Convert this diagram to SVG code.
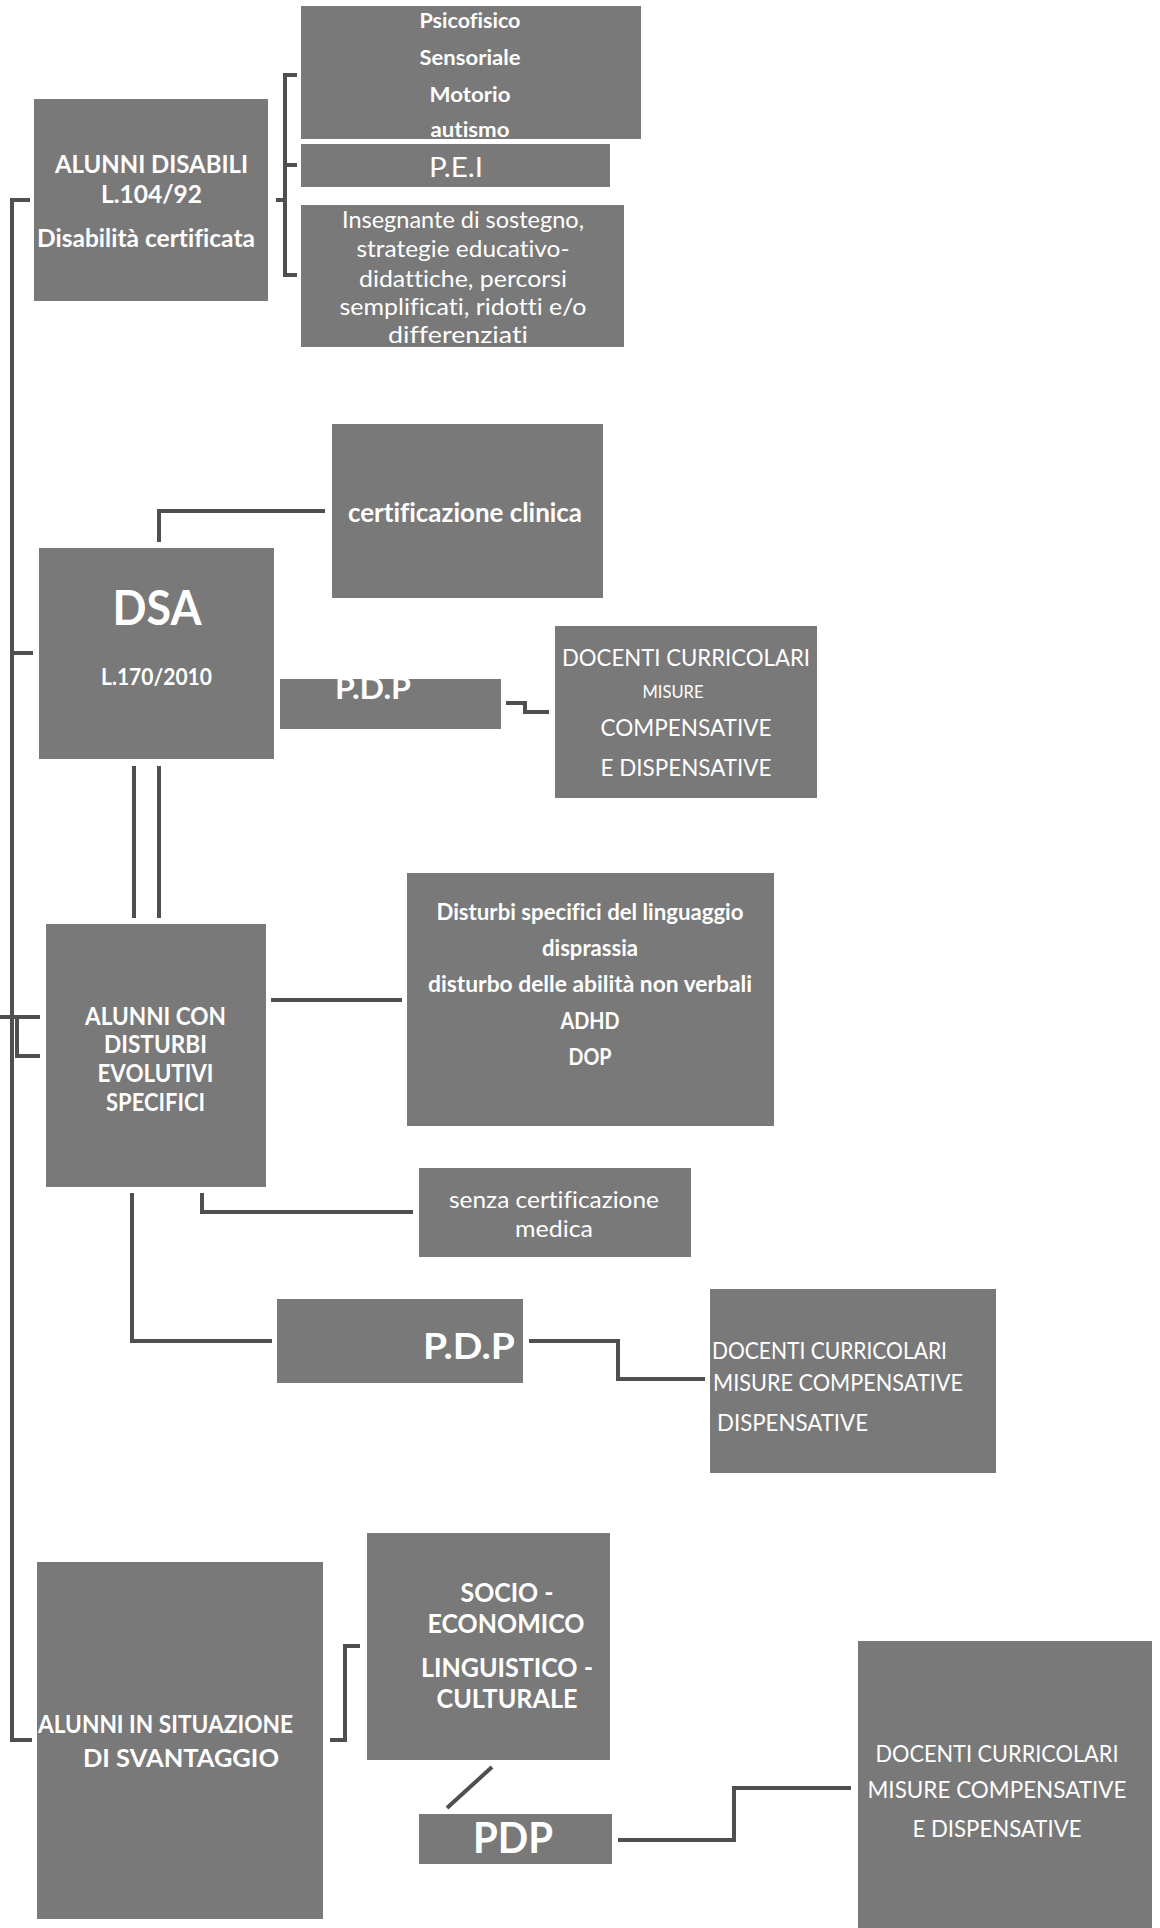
<svg xmlns="http://www.w3.org/2000/svg" width="1160" height="1928" viewBox="0 0 1160 1928">
<style>
.box{fill:#797979}
text{fill:#ffffff;font-family:Lato,"Open Sans","Liberation Sans",sans-serif;font-variant-ligatures:none}
.b{font-weight:700}
.c{text-anchor:middle}
.ln{fill:none;stroke:#4f4f4f;stroke-width:4}
</style>
<rect width="1160" height="1928" fill="#ffffff"/>
<g id="connectors">
<path class="ln" d="M30 200 H12 V1740 H32"/>
<path class="ln" d="M12 653 H33"/>
<path class="ln" d="M0 1017 H40 M17 1017 V1056 H40"/>
<path class="ln" d="M297 75 H285 V275 H297 M285 165 H297 M276 200 H285"/>
<path class="ln" d="M159 542 V511 H325"/>
<path class="ln" d="M506 703 H525 V712 H549"/>
<path class="ln" d="M134 766 V918 M159 766 V918"/>
<path class="ln" d="M271 1000 H402"/>
<path class="ln" d="M202 1193 V1212 H413"/>
<path class="ln" d="M132 1193 V1341 H272"/>
<path class="ln" d="M529 1341 H618 V1379 H705"/>
<path class="ln" d="M330 1740 H345 V1646 H360"/>
<path class="ln" d="M492 1767 L447 1808"/>
<path class="ln" d="M618 1840 H734 V1788 H851"/>
</g>
<g id="n-tipi">
<rect class="box" x="301" y="6" width="340" height="133"/>
<text class="b c" font-size="21.5" x="470" y="28" textLength="101" lengthAdjust="spacingAndGlyphs">Psicofisico</text>
<text class="b c" font-size="21.5" x="470" y="65" textLength="101" lengthAdjust="spacingAndGlyphs">Sensoriale</text>
<text class="b c" font-size="21.5" x="470" y="102" textLength="81" lengthAdjust="spacingAndGlyphs">Motorio</text>
<text class="b c" font-size="21.5" x="470" y="137" textLength="79" lengthAdjust="spacingAndGlyphs">autismo</text>
</g>
<g id="n-pei">
<rect class="box" x="301" y="144" width="309" height="43"/>
<text class="c" font-size="27" x="456" y="177" textLength="54" lengthAdjust="spacingAndGlyphs">P.E.I</text>
</g>
<g id="n-sostegno">
<rect class="box" x="301" y="205" width="323" height="142"/>
<text class="c" font-size="23.5" x="463" y="228" textLength="242" lengthAdjust="spacingAndGlyphs">Insegnante di sostegno,</text>
<text class="c" font-size="23.5" x="463" y="257" textLength="213" lengthAdjust="spacingAndGlyphs">strategie educativo-</text>
<text class="c" font-size="23.5" x="463" y="287" textLength="208" lengthAdjust="spacingAndGlyphs">didattiche, percorsi</text>
<text class="c" font-size="23.5" x="463" y="315" textLength="247" lengthAdjust="spacingAndGlyphs">semplificati, ridotti e/o</text>
<text class="c" font-size="23.5" x="458" y="343" textLength="140" lengthAdjust="spacingAndGlyphs">differenziati</text>
</g>
<g id="n-disabili">
<rect class="box" x="34" y="99" width="234" height="202"/>
<text class="b c" font-size="25" x="151.5" y="173" textLength="193" lengthAdjust="spacingAndGlyphs">ALUNNI DISABILI</text>
<text class="b c" font-size="25" x="151.5" y="203" textLength="101" lengthAdjust="spacingAndGlyphs">L.104/92</text>
<text class="b c" font-size="25" x="146" y="247" textLength="218" lengthAdjust="spacingAndGlyphs">Disabilità certificata</text>
</g>
<g id="n-certificazione">
<rect class="box" x="332" y="424" width="271" height="174"/>
<text class="b c" font-size="26.5" x="465" y="522" textLength="234" lengthAdjust="spacingAndGlyphs">certificazione clinica</text>
</g>
<g id="n-dsa">
<rect class="box" x="39" y="548" width="235" height="211"/>
<text class="b c" font-size="47" x="157" y="625" textLength="89" lengthAdjust="spacingAndGlyphs">DSA</text>
<text class="b c" font-size="22" x="156.5" y="685" textLength="111" lengthAdjust="spacingAndGlyphs">L.170/2010</text>
</g>
<g id="n-pdp1">
<rect class="box" x="280" y="679" width="221" height="50"/>
<text class="b c" font-size="29.5" x="373" y="699" textLength="76" lengthAdjust="spacingAndGlyphs">P.D.P</text>
</g>
<g id="n-docenti1">
<rect class="box" x="555" y="626" width="262" height="172"/>
<text class="c" font-size="24" x="686" y="666" textLength="248" lengthAdjust="spacingAndGlyphs">DOCENTI CURRICOLARI</text>
<text class="c" font-size="16.5" x="673" y="698" textLength="61" lengthAdjust="spacingAndGlyphs">MISURE</text>
<text class="c" font-size="24" x="686" y="736" textLength="171" lengthAdjust="spacingAndGlyphs">COMPENSATIVE</text>
<text class="c" font-size="24" x="686" y="776" textLength="171" lengthAdjust="spacingAndGlyphs">E DISPENSATIVE</text>
</g>
<g id="n-evolutivi">
<rect class="box" x="46" y="924" width="220" height="263"/>
<text class="b c" font-size="24" x="155.5" y="1025" textLength="141" lengthAdjust="spacingAndGlyphs">ALUNNI CON</text>
<text class="b c" font-size="24" x="155.5" y="1053" textLength="103" lengthAdjust="spacingAndGlyphs">DISTURBI</text>
<text class="b c" font-size="24" x="155.5" y="1082" textLength="116" lengthAdjust="spacingAndGlyphs">EVOLUTIVI</text>
<text class="b c" font-size="24" x="155.5" y="1111" textLength="99" lengthAdjust="spacingAndGlyphs">SPECIFICI</text>
</g>
<g id="n-disturbi">
<rect class="box" x="407" y="873" width="367" height="253"/>
<text class="b c" font-size="22" x="590" y="920" textLength="307" lengthAdjust="spacingAndGlyphs">Disturbi specifici del linguaggio</text>
<text class="b c" font-size="22" x="590" y="956" textLength="96" lengthAdjust="spacingAndGlyphs">disprassia</text>
<text class="b c" font-size="22" x="590" y="992" textLength="324" lengthAdjust="spacingAndGlyphs">disturbo delle abilità non verbali</text>
<text class="b c" font-size="22" x="590" y="1029" textLength="59" lengthAdjust="spacingAndGlyphs">ADHD</text>
<text class="b c" font-size="22" x="590" y="1065" textLength="43" lengthAdjust="spacingAndGlyphs">DOP</text>
</g>
<g id="n-senza">
<rect class="box" x="419" y="1168" width="272" height="89"/>
<text class="c" font-size="24" x="554" y="1208" textLength="210" lengthAdjust="spacingAndGlyphs">senza certificazione</text>
<text class="c" font-size="24" x="554" y="1237" textLength="78" lengthAdjust="spacingAndGlyphs">medica</text>
</g>
<g id="n-pdp2">
<rect class="box" x="277" y="1299" width="246" height="84"/>
<text class="b c" font-size="37" x="469" y="1359" textLength="92" lengthAdjust="spacingAndGlyphs">P.D.P</text>
</g>
<g id="n-docenti2">
<rect class="box" x="710" y="1289" width="286" height="184"/>
<text font-size="23.5" x="712" y="1359" textLength="235" lengthAdjust="spacingAndGlyphs">DOCENTI CURRICOLARI</text>
<text font-size="23.5" x="713" y="1391" textLength="250" lengthAdjust="spacingAndGlyphs">MISURE COMPENSATIVE</text>
<text font-size="23.5" x="717" y="1431" textLength="151" lengthAdjust="spacingAndGlyphs">DISPENSATIVE</text>
</g>
<g id="n-svantaggio">
<rect class="box" x="37" y="1562" width="286" height="357"/>
<text class="b" font-size="24" x="38" y="1733" textLength="255" lengthAdjust="spacingAndGlyphs">ALUNNI IN SITUAZIONE</text>
<text class="b" font-size="24" x="83" y="1767" textLength="196" lengthAdjust="spacingAndGlyphs">DI SVANTAGGIO</text>
</g>
<g id="n-socio">
<rect class="box" x="367" y="1533" width="243" height="227"/>
<text class="b c" font-size="26" x="507" y="1602" textLength="93" lengthAdjust="spacingAndGlyphs">SOCIO -</text>
<text class="b c" font-size="26" x="506" y="1633" textLength="157" lengthAdjust="spacingAndGlyphs">ECONOMICO</text>
<text class="b c" font-size="26" x="507" y="1677" textLength="172" lengthAdjust="spacingAndGlyphs">LINGUISTICO -</text>
<text class="b c" font-size="26" x="507" y="1708" textLength="141" lengthAdjust="spacingAndGlyphs">CULTURALE</text>
</g>
<g id="n-pdp3">
<rect class="box" x="419" y="1814" width="193" height="50"/>
<text class="b c" font-size="41.5" x="513" y="1853" textLength="80" lengthAdjust="spacingAndGlyphs">PDP</text>
</g>
<g id="n-docenti3">
<rect class="box" x="858" y="1641" width="294" height="287"/>
<text class="c" font-size="24" x="997" y="1762" textLength="243" lengthAdjust="spacingAndGlyphs">DOCENTI CURRICOLARI</text>
<text class="c" font-size="24" x="997" y="1798" textLength="259" lengthAdjust="spacingAndGlyphs">MISURE COMPENSATIVE</text>
<text class="c" font-size="24" x="997" y="1837" textLength="169" lengthAdjust="spacingAndGlyphs">E DISPENSATIVE</text>
</g>
</svg>
